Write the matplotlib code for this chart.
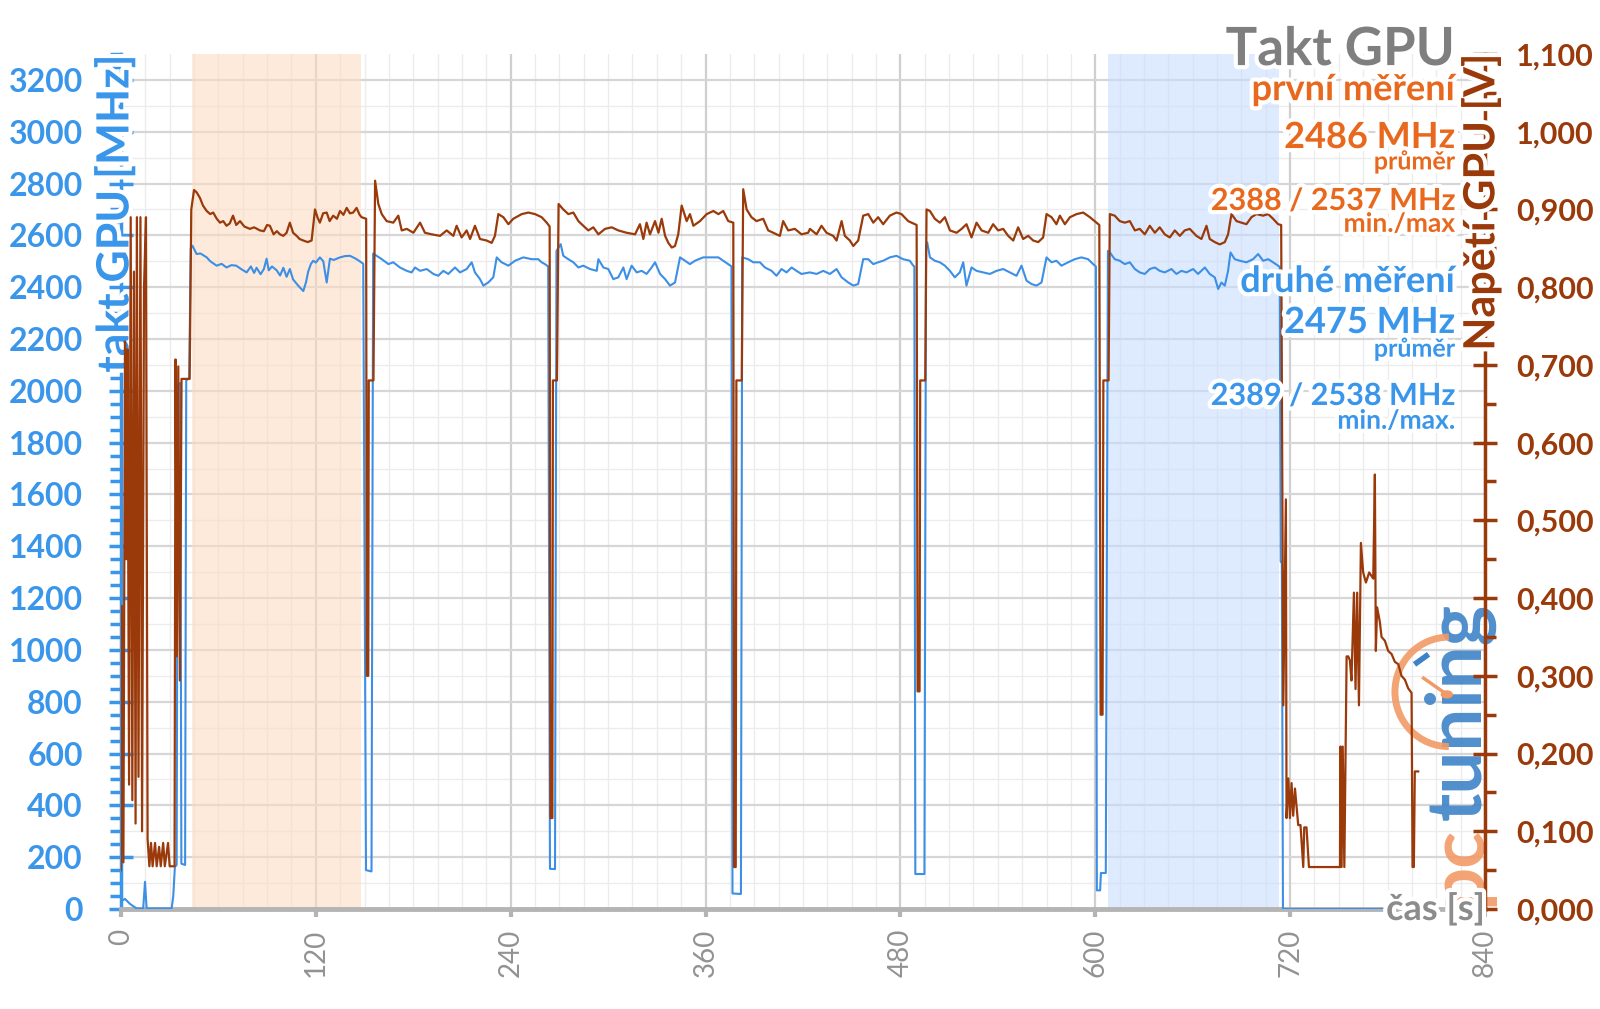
import numpy as np
import matplotlib
matplotlib.use("Agg")
import matplotlib.pyplot as plt
import matplotlib.patheffects as pe
from matplotlib.ticker import MultipleLocator, FuncFormatter
from matplotlib.patches import Arc, Circle

plt.rcParams['font.family'] = ['Lato', 'DejaVu Sans']

# GPU clock (s, MHz) - second run, blue
clock_pts = [
    (0, 30), (2.5, 39), (5.5, 20), (9.6, 2), (13.7, 2), (14.8, 105), (15.8, 2), (31.2, 2),
    (32.2, 49), (33.2, 162), (34.3, 170), (35.0, 2020), (36.5, 2030), (37.2, 175), (39.5, 170),
    (40.2, 2040), (42.0, 2050), (43.0, 2550), (44.0, 2560),
    (46.6, 2528), (49.0, 2530), (52.8, 2515), (55.0, 2500), (58.9, 2483), (62.0, 2490), (65.0, 2476),
    (68.0, 2485), (71.0, 2483), (74.0, 2470), (77.4, 2457), (80.0, 2480), (82.0, 2455), (83.5, 2475),
    (86.0, 2450), (88.0, 2470), (89.7, 2510), (91.0, 2465), (93.0, 2480), (95.9, 2465), (98.0, 2445),
    (100.0, 2475), (102.0, 2440), (104.0, 2470), (106.0, 2430), (108.2, 2413), (110.0, 2400),
    (112.3, 2385), (114.0, 2420), (115.3, 2460), (117.0, 2490), (118.4, 2502), (120.0, 2495),
    (122.5, 2515), (124.6, 2500), (126.7, 2418), (128.7, 2510), (131.0, 2505), (134.9, 2515),
    (138.0, 2520), (141.0, 2521), (143.0, 2515), (145.1, 2508), (148.2, 2495), (149.2, 2490),
    (150.9, 150), (154.3, 145), (155.3, 2530),
    (157.5, 2521), (160.6, 2508), (164.7, 2489), (167.7, 2496), (171.8, 2476), (176.0, 2463),
    (179.0, 2457), (181.1, 2476), (184.2, 2463), (188.3, 2470), (192.4, 2451), (195.4, 2444),
    (198.5, 2463), (201.6, 2451), (205.7, 2476), (208.8, 2457), (212.9, 2470), (216.0, 2496),
    (218.0, 2457), (221.1, 2431), (223.2, 2406), (226.2, 2418), (229.3, 2438), (231.4, 2515),
    (234.4, 2496), (238.6, 2483), (242.7, 2502), (247.8, 2515), (252.9, 2508), (257.0, 2508),
    (259.1, 2496), (261.1, 2489), (263.1, 2480),
    (264.2, 155), (267.3, 154), (268.2, 2540),
    (270.8, 2566), (272.4, 2521), (275.5, 2508), (278.6, 2496), (281.7, 2476), (284.7, 2483),
    (288.9, 2470), (293.0, 2463), (294.0, 2508), (297.1, 2476), (300.1, 2470), (303.2, 2431),
    (306.3, 2438), (309.4, 2476), (311.4, 2431), (314.5, 2483), (317.6, 2457), (320.7, 2463),
    (323.7, 2451), (326.8, 2476), (328.9, 2496), (332.0, 2451), (335.1, 2431), (338.1, 2406),
    (341.2, 2418), (344.3, 2515), (347.3, 2502), (350.4, 2489), (353.5, 2502), (358.6, 2515),
    (363.8, 2515), (367.9, 2515), (370.9, 2502), (374.0, 2489), (376.0, 2480),
    (376.6, 60), (381.8, 58), (382.6, 2515),
    (386.3, 2508), (389.4, 2496), (393.5, 2496), (396.6, 2476), (400.7, 2463), (403.7, 2444),
    (406.8, 2470), (409.9, 2457), (413.0, 2476), (416.0, 2463), (419.1, 2451), (424.3, 2457),
    (428.4, 2451), (432.5, 2463), (436.6, 2451), (440.7, 2470), (443.8, 2438), (447.9, 2418),
    (451.0, 2406), (454.0, 2412), (457.1, 2508), (460.2, 2508), (463.3, 2489), (466.3, 2496),
    (469.4, 2502), (473.5, 2515), (477.6, 2521), (481.7, 2508), (485.8, 2502), (487.9, 2483),
    (488.6, 2480),
    (489.2, 135), (494.8, 135), (495.8, 2560),
    (496.5, 2573), (498.2, 2515), (501.2, 2502), (504.3, 2496), (507.4, 2483), (510.5, 2463),
    (513.5, 2438), (516.6, 2457), (518.7, 2496), (520.7, 2406), (523.8, 2476), (526.9, 2463),
    (531.0, 2457), (535.1, 2451), (539.2, 2463), (543.3, 2470), (547.4, 2457), (551.5, 2444),
    (554.6, 2483), (557.7, 2425), (560.8, 2412), (563.8, 2406), (566.9, 2418), (570.0, 2515),
    (573.1, 2496), (576.1, 2502), (579.2, 2483), (583.3, 2496), (587.4, 2508), (591.5, 2515),
    (595.6, 2508), (598.7, 2489), (600.4, 2480),
    (601.0, 72), (603.0, 72), (603.5, 139), (606.5, 139), (607.8, 2540),
    (609.0, 2534), (612.0, 2508), (615.1, 2502), (618.2, 2489), (621.3, 2496), (624.4, 2470),
    (627.4, 2457), (630.5, 2451), (633.6, 2470), (636.7, 2476), (639.7, 2463), (642.8, 2457),
    (646.9, 2470), (650.0, 2451), (653.1, 2463), (656.2, 2457), (660.3, 2470), (663.3, 2451),
    (667.5, 2476), (670.5, 2451), (673.6, 2438), (675.7, 2393), (677.7, 2418), (679.8, 2406),
    (681.8, 2463), (683.3, 2534), (685.9, 2508), (689.0, 2502), (693.1, 2496), (697.2, 2508),
    (700.3, 2528), (703.4, 2502), (706.5, 2508), (709.5, 2496), (712.6, 2483), (713.6, 2478),
    (714.2, 1340), (714.9, 1340), (715.6, 0), (797.0, 0),
]

# GPU voltage (s, V) - brown
voltage_pts = [
    (0, 0.05), (0.5, 0.39), (1.5, 0.06), (2.5, 0.73), (3.3, 0.45), (4.0, 0.72), (5.0, 0.16),
    (6.0, 0.89), (7.0, 0.14), (8.0, 0.82), (9.0, 0.11), (9.8, 0.89), (10.8, 0.17), (12.0, 0.89),
    (13.0, 0.10), (14.2, 0.80), (15.4, 0.89), (16.4, 0.09), (17.5, 0.055), (18.5, 0.085),
    (19.5, 0.055), (21.0, 0.085), (22.0, 0.055), (23.5, 0.08), (24.5, 0.055), (26.0, 0.085),
    (27.0, 0.055), (29.0, 0.085), (30.0, 0.055), (33.0, 0.055), (33.6, 0.707), (34.4, 0.325),
    (35.3, 0.698), (36.3, 0.294), (37.3, 0.682), (42.3, 0.682), (43.3, 0.90), (45.0, 0.925),
    (46.6, 0.922), (48.6, 0.915), (50.5, 0.905), (52.8, 0.898), (55.0, 0.894), (56.8, 0.896),
    (59.0, 0.888), (61.0, 0.883), (63.0, 0.885), (65.0, 0.879), (67.0, 0.882), (69.0, 0.892),
    (71.0, 0.880), (73.3, 0.885), (76.0, 0.878), (79.4, 0.875), (82.0, 0.877), (85.6, 0.873),
    (88.0, 0.872), (90.0, 0.880), (91.7, 0.879), (94.0, 0.868), (96.0, 0.872), (97.9, 0.868),
    (100.0, 0.866), (102.0, 0.870), (104.0, 0.883), (106.0, 0.870), (108.2, 0.866), (110.0, 0.862),
    (112.3, 0.860), (115.0, 0.858), (117.4, 0.860), (119.5, 0.900), (121.0, 0.890), (122.5, 0.883),
    (124.5, 0.895), (126.7, 0.896), (128.5, 0.885), (130.7, 0.892), (133.0, 0.888), (134.9, 0.898),
    (137.0, 0.893), (139.0, 0.902), (141.0, 0.895), (143.0, 0.896), (145.1, 0.902), (147.0, 0.893),
    (148.2, 0.890), (151.0, 0.888),
    (151.4, 0.30), (152.3, 0.30), (152.6, 0.68), (155.5, 0.68), (156.5, 0.937),
    (158.5, 0.907), (160.6, 0.894), (163.6, 0.885), (167.7, 0.883), (170.8, 0.892), (172.9, 0.873),
    (176.0, 0.875), (180.1, 0.870), (184.2, 0.883), (187.2, 0.870), (191.3, 0.868), (196.5, 0.866),
    (200.6, 0.873), (204.7, 0.866), (206.7, 0.879), (209.8, 0.864), (212.9, 0.873), (215.0, 0.862),
    (218.0, 0.879), (221.1, 0.862), (225.2, 0.860), (228.3, 0.857), (230.3, 0.866), (232.4, 0.894),
    (235.5, 0.890), (238.6, 0.881), (241.6, 0.888), (246.8, 0.894), (250.9, 0.896), (255.0, 0.894),
    (259.1, 0.890), (262.2, 0.883), (264.0, 0.878),
    (264.5, 0.117), (265.7, 0.117), (266.0, 0.68), (268.5, 0.68), (269.5, 0.907),
    (272.4, 0.900), (275.5, 0.894), (278.6, 0.896), (281.7, 0.885), (283.7, 0.881), (287.8, 0.873),
    (290.9, 0.877), (294.0, 0.868), (298.1, 0.875), (302.2, 0.877), (306.3, 0.873), (311.4, 0.870),
    (316.6, 0.868), (319.6, 0.881), (321.7, 0.862), (323.7, 0.883), (325.8, 0.868), (328.9, 0.885),
    (331.0, 0.870), (333.0, 0.888), (335.1, 0.866), (337.1, 0.857), (339.2, 0.851), (341.2, 0.853),
    (343.2, 0.868), (345.3, 0.905), (348.4, 0.885), (350.4, 0.894), (352.5, 0.879), (356.6, 0.885),
    (360.7, 0.894), (364.8, 0.898), (367.9, 0.894), (370.9, 0.898), (374.0, 0.885), (377.1, 0.883),
    (377.6, 0.054), (378.6, 0.054), (379.0, 0.68), (382.3, 0.68), (383.2, 0.926),
    (385.3, 0.900), (388.3, 0.890), (391.4, 0.885), (395.5, 0.888), (398.6, 0.873), (401.7, 0.870),
    (405.8, 0.866), (407.8, 0.885), (410.9, 0.873), (415.0, 0.875), (419.1, 0.868), (423.2, 0.870),
    (424.3, 0.875), (428.4, 0.868), (431.4, 0.879), (434.5, 0.870), (438.6, 0.866), (440.7, 0.860),
    (443.8, 0.885), (445.8, 0.866), (448.9, 0.860), (451.0, 0.853), (454.0, 0.860), (457.1, 0.892),
    (460.2, 0.894), (463.3, 0.883), (466.3, 0.890), (469.4, 0.881), (473.5, 0.892), (477.6, 0.896),
    (480.7, 0.894), (484.8, 0.885), (488.9, 0.881), (490.0, 0.880),
    (490.6, 0.28), (491.8, 0.28), (492.2, 0.68), (495.3, 0.68), (496.1, 0.900),
    (498.2, 0.898), (501.2, 0.888), (504.3, 0.883), (507.4, 0.890), (510.5, 0.873), (514.6, 0.870),
    (517.7, 0.875), (520.7, 0.881), (523.8, 0.864), (526.9, 0.883), (530.0, 0.873), (534.1, 0.870),
    (537.1, 0.881), (540.2, 0.873), (543.3, 0.875), (546.4, 0.866), (549.5, 0.860), (552.5, 0.877),
    (555.6, 0.862), (558.7, 0.866), (561.8, 0.860), (564.9, 0.858), (567.9, 0.864), (570.0, 0.894),
    (573.1, 0.890), (576.1, 0.881), (578.2, 0.892), (581.3, 0.881), (584.4, 0.890), (588.5, 0.894),
    (592.6, 0.896), (596.7, 0.890), (600.8, 0.883), (602.5, 0.880),
    (603.3, 0.25), (604.5, 0.25), (605.0, 0.68), (608.2, 0.68), (609.0, 0.894),
    (612.0, 0.892), (615.1, 0.885), (618.2, 0.883), (621.3, 0.885), (624.4, 0.873), (627.4, 0.875),
    (630.5, 0.868), (633.6, 0.879), (636.7, 0.870), (639.7, 0.877), (642.8, 0.868), (645.9, 0.864),
    (649.0, 0.873), (652.1, 0.866), (655.1, 0.873), (658.2, 0.875), (662.3, 0.866), (665.4, 0.862),
    (668.5, 0.879), (670.5, 0.862), (673.6, 0.858), (676.7, 0.855), (679.8, 0.858), (681.8, 0.868),
    (683.9, 0.894), (687.0, 0.885), (690.0, 0.883), (693.1, 0.881), (696.2, 0.890), (699.3, 0.894),
    (703.4, 0.892), (706.5, 0.894), (709.5, 0.888), (712.6, 0.881), (714.5, 0.880),
    (715.8, 0.262), (717.4, 0.527), (717.8, 0.117), (718.9, 0.168), (719.9, 0.117), (720.9, 0.162),
    (721.9, 0.120), (723.0, 0.155), (725.0, 0.108), (726.4, 0.108), (728.1, 0.054), (728.7, 0.105),
    (730.1, 0.105), (731.6, 0.054), (750.7, 0.054), (751.0, 0.209), (751.7, 0.054), (752.4, 0.209),
    (753.4, 0.054), (754.8, 0.325), (755.8, 0.325), (756.8, 0.320), (757.8, 0.294), (759.3, 0.407),
    (760.3, 0.283), (761.3, 0.407), (762.4, 0.262), (763.6, 0.471), (765.0, 0.433), (766.7, 0.420),
    (768.7, 0.433), (771.2, 0.425), (772.2, 0.559), (772.8, 0.332), (773.6, 0.388), (775.3, 0.369),
    (776.3, 0.350), (778.4, 0.345), (780.4, 0.332), (782.5, 0.328), (784.5, 0.318), (786.6, 0.315),
    (788.6, 0.300), (790.7, 0.295), (792.7, 0.284), (794.8, 0.278), (795.4, 0.054), (796.2, 0.054),
    (796.8, 0.177), (798.9, 0.177),
]

# highlighted intervals (s)
band_first = (44, 148)
band_second = (608, 713)

# summary texts
first_label = "první měření"
first_avg = "2486 MHz"
first_minmax = "2388 / 2537 MHz"
second_label = "druhé měření"
second_avg = "2475 MHz"
second_minmax = "2389 / 2538 MHz"

BLUE = '#3a96ea'
BLUE_LINE = '#3d8fe6'
BROWN = '#9a3a0a'
ORANGE = '#e8691e'
GRAY = '#7f7f7f'

clock_t, clock_mhz = zip(*clock_pts)
volt_t, volt_v = zip(*voltage_pts)

fig = plt.figure(figsize=(16, 10.09), dpi=100)
ax = fig.add_axes([0.0756, 0.0991, 0.8525, 0.8474])
ax2 = ax.twinx()

glow = [pe.withStroke(linewidth=6, foreground='white')]

ax.set_xlim(0, 840)
ax.set_ylim(0, 3300)
ax2.set_ylim(0, 1.1)
ax.set_axisbelow(True)

# grid
ax.xaxis.set_major_locator(MultipleLocator(120))
ax.xaxis.set_minor_locator(MultipleLocator(15))
ax.yaxis.set_major_locator(MultipleLocator(200))
ax.yaxis.set_minor_locator(MultipleLocator(50))
ax.grid(which='major', axis='x', color='#cfcfcf', lw=1.6)
ax.grid(which='minor', axis='x', color='#ececec', lw=1.0)
ax.grid(which='major', axis='y', color='#d6d6d6', lw=1.6)
for y in np.arange(100, 3300, 200):
    ax.axhline(y, color='#ececec', lw=1.0, zorder=0.4)

ax.axvspan(*band_first, color='#fcdcc3', alpha=0.6, lw=0, zorder=0.8)
ax.axvspan(*band_second, color='#c8deff', alpha=0.6, lw=0, zorder=0.8)

# pctuning logo
logo_kw = dict(rotation=90, rotation_mode='anchor', ha='left', va='baseline',
               transform=ax.transAxes, fontsize=55, fontweight='bold', alpha=0.9, zorder=1)
ax.text(0.997, 0.004, "pc", color='#f29a66', **logo_kw)
ax.text(0.997, 0.104, "tuning", color='#3d82c8', **logo_kw)
ax.add_patch(Arc((0.9735, 0.254), 0.079, 0.128, theta1=90, theta2=270, lw=5,
                 color='#f29a66', transform=ax.transAxes, zorder=1, alpha=0.9))
ax.plot([0.955, 0.972], [0.270, 0.251], color='#f29a66', lw=2.5,
        transform=ax.transAxes, zorder=1)
ax.add_patch(Circle((0.972, 0.251), 0.004, color='#f29a66', transform=ax.transAxes, zorder=1))
ax.plot([0.950, 0.957], [0.288, 0.296], color='#3d82c8', lw=4,
        transform=ax.transAxes, zorder=1)

# data lines
ax.plot(clock_t, clock_mhz, color=BLUE_LINE, lw=1.5, zorder=3)
ax2.plot(volt_t, volt_v, color=BROWN, lw=1.6, zorder=3)

# spines
ax.spines['top'].set_visible(False)
ax.spines['right'].set_visible(False)
ax.spines['left'].set_color(BLUE)
ax.spines['left'].set_linewidth(2.5)
ax.spines['bottom'].set_color('#b4b4b4')
ax.spines['bottom'].set_linewidth(3.5)
for s in ['top', 'left', 'bottom']:
    ax2.spines[s].set_visible(False)
ax2.spines['right'].set_color(BROWN)
ax2.spines['right'].set_linewidth(2.5)

# ticks
ax.tick_params(axis='y', which='major', direction='inout', length=17, width=2.5,
               color=BLUE, labelcolor=BLUE, labelsize=23, pad=19)
ax.tick_params(axis='y', which='minor', direction='out', length=8, width=2.5, color=BLUE)
ax.tick_params(axis='x', which='major', direction='out', length=6, width=3,
               color='#b4b4b4', labelcolor='#929292', labelsize=20, pad=8, labelrotation=90)
ax.tick_params(axis='x', which='minor', length=0)
ax2.yaxis.set_major_locator(MultipleLocator(0.1))
ax2.yaxis.set_minor_locator(MultipleLocator(0.05))
ax2.yaxis.set_major_formatter(FuncFormatter(lambda v, p: f"{v:.3f}".replace('.', ',')))
ax2.tick_params(axis='y', which='major', direction='inout', length=17, width=2.5,
                color=BROWN, labelcolor=BROWN, labelsize=22, pad=14)
ax2.tick_params(axis='y', which='minor', direction='out', length=8, width=2.5, color=BROWN)
for lab in ax.get_yticklabels() + ax2.get_yticklabels():
    lab.set_fontweight('bold')

# axis titles
ax.text(-0.0044, 1.0, "takt GPU [MHz]", rotation=90, ha='center', va='top', color=BLUE,
        fontsize=32, fontweight='bold', transform=ax.transAxes, path_effects=glow, zorder=5)
ax2.text(0.997, 1.0, "Napětí GPU [V]", rotation=90, ha='center', va='top', color=BROWN,
         fontsize=31, fontweight='bold', transform=ax2.transAxes, path_effects=glow, zorder=5)
ax2.text(1.0, 0.0, "čas [s]", ha='right', va='center', color='#8c8c8c', fontsize=26,
         fontweight='bold', transform=ax2.transAxes, path_effects=glow, zorder=5)

# title and summary
xr = 0.978
def note(y, s, color, size):
    ax2.text(xr, y, s, ha='right', va='baseline', color=color, fontsize=size,
             fontweight='bold', transform=ax2.transAxes, path_effects=glow, zorder=6)

note(0.987, "Takt GPU", GRAY, 38)
note(0.946, first_label, ORANGE, 26)
note(0.890, first_avg, ORANGE, 26)
note(0.865, "průměr", ORANGE, 18)
note(0.8175, first_minmax, ORANGE, 22)
note(0.792, "min./max", ORANGE, 19)
note(0.7216, second_label, BLUE, 26)
note(0.6737, second_avg, BLUE, 26)
note(0.646, "průměr", BLUE, 18)
note(0.5895, second_minmax, BLUE, 22)
note(0.5617, "min./max.", BLUE, 19)

fig.savefig("out.png", dpi=100)
